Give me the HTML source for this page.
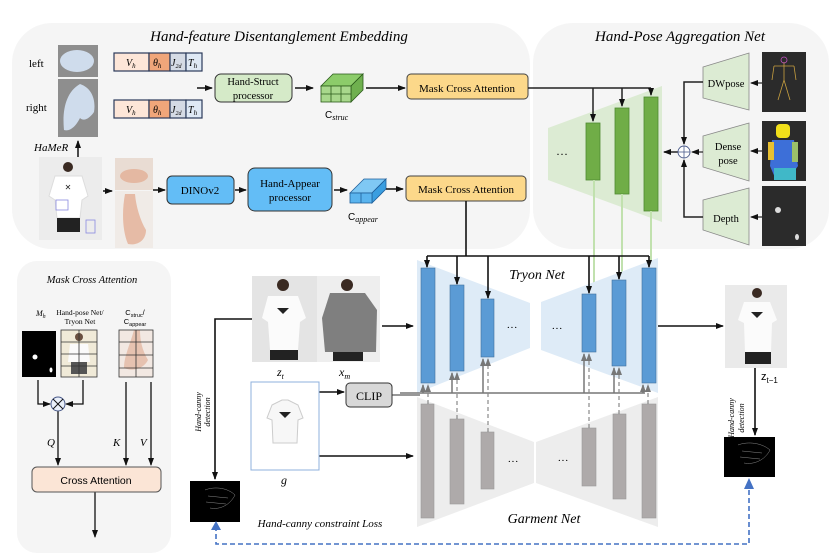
<!DOCTYPE html>
<html><head><meta charset="utf-8"><style>
html,body{margin:0;padding:0;background:#fff;width:832px;height:558px;overflow:hidden}
svg{display:block}
.s{font-family:"Liberation Serif",serif}
.i{font-family:"Liberation Serif",serif;font-style:italic}
.a{font-family:"Liberation Sans",sans-serif}
</style></head><body>
<svg width="832" height="558" viewBox="0 0 832 558" xmlns="http://www.w3.org/2000/svg">
<defs>
<marker id="ar" markerWidth="8" markerHeight="8" refX="7" refY="4" orient="auto" markerUnits="userSpaceOnUse"><path d="M0,1 L8,4 L0,7 Z" fill="#111"/></marker>
<marker id="ag" markerWidth="8" markerHeight="8" refX="7" refY="4" orient="auto" markerUnits="userSpaceOnUse"><path d="M0,1 L8,4 L0,7 Z" fill="#777"/></marker>
<marker id="ab" markerWidth="12" markerHeight="12" refX="10" refY="6" orient="auto" markerUnits="userSpaceOnUse"><path d="M0,0 L12,6 L0,12 Z" fill="#4472c4"/></marker>
<marker id="al" markerWidth="8" markerHeight="8" refX="7" refY="4" orient="auto" markerUnits="userSpaceOnUse"><path d="M0,1 L8,4 L0,7 Z" fill="#b5d9a4"/></marker>
</defs>
<!-- panels -->
<rect x="12" y="23" width="518" height="226" rx="40" fill="#f5f5f5"/>
<rect x="533" y="23" width="296" height="226" rx="40" fill="#f5f5f5"/>
<rect x="17" y="261" width="154" height="292" rx="20" fill="#f5f5f5"/>

<text x="279" y="41" class="i" font-size="15" text-anchor="middle">Hand-feature Disentanglement Embedding</text>
<text x="680" y="41" class="i" font-size="15" text-anchor="middle">Hand-Pose Aggregation Net</text>

<!-- left/right hands -->
<text x="29" y="67" class="s" font-size="11">left</text>
<text x="26" y="111" class="s" font-size="11">right</text>
<rect x="58" y="45" width="40" height="32" fill="#8e8e8e"/>
<ellipse cx="77" cy="61" rx="17" ry="11" fill="#cfdcec"/>
<rect x="58" y="79" width="40" height="58" fill="#8e8e8e"/>
<path d="M64,130 C62,110 66,92 80,84 C92,88 96,100 94,112 C90,118 84,122 80,118 C76,126 70,132 64,130Z" fill="#cfdcec"/>
<text x="34" y="151" class="i" font-size="11">HaMeR</text>
<line x1="78" y1="157" x2="78" y2="141" stroke="#111" stroke-width="1.5" marker-end="url(#ar)"/>

<!-- token bars -->
<g stroke="#2b3a5a" stroke-width="1.2">
<rect x="114" y="53" width="35" height="18" fill="#fde6d8"/><rect x="149" y="53" width="21" height="18" fill="#f0a67a"/><rect x="170" y="53" width="16" height="18" fill="#d5dbe5"/><rect x="186" y="53" width="16" height="18" fill="#dfe9f5"/>
<rect x="114" y="100" width="35" height="18" fill="#fde6d8"/><rect x="149" y="100" width="21" height="18" fill="#f0a67a"/><rect x="170" y="100" width="16" height="18" fill="#d5dbe5"/><rect x="186" y="100" width="16" height="18" fill="#dfe9f5"/>
</g>
<g class="i" font-size="10">
<text x="126" y="66">V<tspan font-size="7" dy="2">h</tspan></text><text x="153" y="66">θ<tspan font-size="7" dy="2">h</tspan></text><text x="171" y="66">J<tspan font-size="6" dy="2">2d</tspan></text><text x="188" y="66">T<tspan font-size="7" dy="2">h</tspan></text>
<text x="126" y="113">V<tspan font-size="7" dy="2">h</tspan></text><text x="153" y="113">θ<tspan font-size="7" dy="2">h</tspan></text><text x="171" y="113">J<tspan font-size="6" dy="2">2d</tspan></text><text x="188" y="113">T<tspan font-size="7" dy="2">h</tspan></text>
</g>
<line x1="197" y1="88" x2="212" y2="88" stroke="#111" stroke-width="1.5" marker-end="url(#ar)"/>
<rect x="215" y="74" width="77" height="28" rx="6" fill="#d5eac8" stroke="#333" stroke-width="1"/>
<text x="253" y="85" class="s" font-size="10.5" text-anchor="middle">Hand-Struct</text>
<text x="253" y="99" class="s" font-size="10.5" text-anchor="middle">processor</text>
<line x1="295" y1="88" x2="313" y2="88" stroke="#111" stroke-width="1.5" marker-end="url(#ar)"/>
<!-- green cube -->
<g stroke="#2a5a1a" stroke-width="0.8" fill="#8ccc6a">
<polygon points="321,86 333,74 363,74 351,86"/>
<polygon points="351,86 363,74 363,90 351,102" fill="#6fb04f"/>
<rect x="321" y="86" width="30" height="16" fill="#a8d88c"/>
<line x1="331" y1="86" x2="331" y2="102"/><line x1="341" y1="86" x2="341" y2="102"/><line x1="321" y1="94" x2="351" y2="94"/>
</g>
<text x="325" y="118" class="a" font-size="10">C<tspan class="i" font-size="8" dy="2">struc</tspan></text>
<line x1="366" y1="88" x2="405" y2="88" stroke="#111" stroke-width="1.5" marker-end="url(#ar)"/>
<rect x="407" y="74" width="121" height="25" rx="4" fill="#fcd88a" stroke="#444" stroke-width="1"/>
<text x="467" y="92" class="s" font-size="11" text-anchor="middle">Mask Cross Attention</text>

<!-- person image top -->
<rect x="39" y="157" width="63" height="83" fill="#ececec"/>
<circle cx="68" cy="167" r="5" fill="#3a2a22"/>
<path d="M55,176 L82,176 L88,196 L82,200 L80,218 L57,218 L55,200 L49,196Z" fill="#fff" stroke="#ddd"/>
<path d="M57,218 L80,218 L80,232 L57,232Z" fill="#222"/>
<text x="68" y="190" font-size="8" text-anchor="middle" fill="#222">✕</text>
<rect x="56" y="200" width="12" height="10" fill="none" stroke="#8a8ae0" stroke-width="0.8"/>
<rect x="86" y="220" width="9" height="13" fill="none" stroke="#8a8ae0" stroke-width="0.8"/>
<line x1="103" y1="191" x2="112" y2="191" stroke="#111" stroke-width="1.5" marker-end="url(#ar)"/>
<rect x="115" y="158" width="38" height="32" fill="#e9dcd3"/>
<ellipse cx="134" cy="176" rx="14" ry="7" fill="#e4b8a2"/>
<rect x="115" y="191" width="38" height="57" fill="#f0ebe7"/>
<path d="M125,194 C122,210 122,230 128,244 C138,246 146,240 146,230 C140,220 136,206 135,194Z" fill="#e6bba6"/>
<line x1="153" y1="190" x2="165" y2="190" stroke="#111" stroke-width="1.5" marker-end="url(#ar)"/>
<rect x="167" y="176" width="67" height="28" rx="5" fill="#63bdf6" stroke="#333" stroke-width="1"/>
<text x="200" y="194" class="s" font-size="11" text-anchor="middle">DINOv2</text>
<line x1="235" y1="190" x2="246" y2="190" stroke="#111" stroke-width="1.5" marker-end="url(#ar)"/>
<rect x="248" y="168" width="84" height="43" rx="7" fill="#63bdf6" stroke="#333" stroke-width="1"/>
<text x="290" y="187" class="s" font-size="11" text-anchor="middle">Hand-Appear</text>
<text x="290" y="201" class="s" font-size="11" text-anchor="middle">processor</text>
<line x1="334" y1="190" x2="347" y2="190" stroke="#111" stroke-width="1.5" marker-end="url(#ar)"/>
<g stroke="#1f5f9a" stroke-width="0.8">
<polygon points="350,193 364,179 386,179 372,193" fill="#7fc8f4"/>
<polygon points="372,193 386,179 386,189 372,203" fill="#3a9ee0"/>
<rect x="350" y="193" width="22" height="10" fill="#5ab4ee"/>
<line x1="361" y1="193" x2="361" y2="203"/>
</g>
<text x="348" y="220" class="a" font-size="10">C<tspan class="i" font-size="8" dy="2">appear</tspan></text>
<line x1="386" y1="189" x2="403" y2="189" stroke="#111" stroke-width="1.5" marker-end="url(#ar)"/>
<rect x="406" y="176" width="120" height="25" rx="4" fill="#fcd88a" stroke="#444" stroke-width="1"/>
<text x="466" y="193" class="s" font-size="11" text-anchor="middle">Mask Cross Attention</text>

<!-- hand-pose aggregation -->
<polygon points="548,128 662,86 662,222 548,180" fill="#dcebd3"/>
<g fill="#70ad47" stroke="#4f8a30" stroke-width="0.8">
<rect x="586" y="123" width="14" height="57"/><rect x="615" y="108" width="14" height="86"/><rect x="644" y="97" width="14" height="114"/>
</g>
<text x="562" y="158" class="s" font-size="12" text-anchor="middle">···</text>
<line x1="528" y1="88" x2="651" y2="88" stroke="#222" stroke-width="1.6"/>
<line x1="593" y1="88" x2="593" y2="121" stroke="#222" stroke-width="1.5" marker-end="url(#ar)"/>
<line x1="622" y1="88" x2="622" y2="106" stroke="#222" stroke-width="1.5" marker-end="url(#ar)"/>
<line x1="651" y1="88" x2="651" y2="95" stroke="#222" stroke-width="1.5" marker-end="url(#ar)"/>
<g stroke="#c1e1ae" stroke-width="2">
<line x1="594" y1="180" x2="594" y2="290"/><line x1="622" y1="194" x2="622" y2="276"/><line x1="651" y1="211" x2="651" y2="265"/>
</g>
<g fill="#dcebd3" stroke="#888" stroke-width="0.8">
<polygon points="703,67 749,53 749,110 703,98"/>
<polygon points="703,136 749,123 749,181 703,167"/>
<polygon points="703,200 749,188 749,245 703,230"/>
</g>
<text x="726" y="87" class="s" font-size="10.5" text-anchor="middle">DWpose</text>
<text x="728" y="150" class="s" font-size="10.5" text-anchor="middle">Dense</text>
<text x="728" y="164" class="s" font-size="10.5" text-anchor="middle">pose</text>
<text x="726" y="222" class="s" font-size="10.5" text-anchor="middle">Depth</text>
<rect x="762" y="52" width="44" height="60" fill="#2b2b2b"/>
<g stroke-width="0.8" fill="none"><path d="M784,62 L784,80 L778,100 M784,80 L790,100 M774,66 L794,66 M774,66 L772,80 M794,66 L796,80" stroke="#c8a040"/><circle cx="784" cy="60" r="3" stroke="#c050c0"/></g>
<rect x="762" y="121" width="44" height="60" fill="#2b2b2b"/>
<rect x="776" y="124" width="14" height="14" rx="4" fill="#f2e01a"/>
<path d="M772,140 L794,140 L798,166 L788,180 L776,180 L770,166Z" fill="#3d6fd8"/>
<rect x="768" y="142" width="6" height="18" fill="#e8c030"/><rect x="792" y="142" width="6" height="20" fill="#9bc06a"/>
<rect x="774" y="168" width="22" height="12" fill="#40b8c8"/>
<rect x="762" y="186" width="44" height="60" fill="#2b2b2b"/>
<circle cx="778" cy="210" r="3" fill="#ddd"/><ellipse cx="797" cy="237" rx="2" ry="3" fill="#ddd"/>
<g stroke="#222" stroke-width="1.2">
<line x1="762" y1="83" x2="751" y2="83" marker-end="url(#ar)"/>
<line x1="762" y1="151" x2="751" y2="151" marker-end="url(#ar)"/>
<line x1="762" y1="217" x2="751" y2="217" marker-end="url(#ar)"/>
<line x1="703" y1="152" x2="692" y2="152" marker-end="url(#ar)"/>
<polyline points="703,82 684,82 684,144" fill="none" stroke-width="1.5" marker-end="url(#ar)"/>
<polyline points="703,217 684,217 684,160" fill="none" stroke-width="1.5" marker-end="url(#ar)"/>
<line x1="678" y1="152" x2="664" y2="152" stroke-width="1.5" marker-end="url(#ar)"/>
</g>
<circle cx="684" cy="152" r="6" fill="#fff" stroke="#4a5a8a" stroke-width="0.9"/>
<line x1="684" y1="146" x2="684" y2="158" stroke="#4a5a8a" stroke-width="0.8"/><line x1="678" y1="152" x2="690" y2="152" stroke="#4a5a8a" stroke-width="0.8"/>

<!-- mask cross attention panel -->
<text x="92" y="283" class="i" font-size="10.5" text-anchor="middle">Mask Cross Attention</text>
<text x="36" y="316" class="i" font-size="8">M<tspan font-size="6" dy="2">h</tspan></text>
<text x="80" y="315" class="s" font-size="7.5" text-anchor="middle">Hand-pose Net/</text>
<text x="80" y="324" class="s" font-size="7.5" text-anchor="middle">Tryon Net</text>
<text x="135" y="315" class="a" font-size="7.5" text-anchor="middle">C<tspan font-size="5.5" dy="2">struc</tspan><tspan dy="-2">/</tspan></text>
<text x="135" y="324" class="a" font-size="7.5" text-anchor="middle">C<tspan font-size="5.5" dy="2">appear</tspan></text>
<rect x="22" y="331" width="34" height="46" fill="#000"/>
<circle cx="35" cy="357" r="2.5" fill="#fff"/><ellipse cx="51" cy="370" rx="1.5" ry="2.5" fill="#fff"/>
<rect x="61" y="330" width="36" height="47" fill="#f0ead8"/>
<circle cx="79" cy="337" r="4" fill="#6a5040"/><path d="M70,344 L88,344 L90,362 L68,362Z" fill="#fafafa"/><rect x="71" y="362" width="16" height="12" fill="#555"/>
<g stroke="#333" stroke-width="0.8" fill="none"><rect x="61" y="330" width="36" height="47"/><line x1="61" y1="342" x2="97" y2="342"/><line x1="61" y1="354" x2="97" y2="354"/><line x1="61" y1="366" x2="97" y2="366"/><line x1="79" y1="330" x2="79" y2="377"/></g>
<rect x="119" y="330" width="34" height="47" fill="#f2e8e2"/>
<path d="M134,330 C130,345 124,356 124,368 C134,372 144,368 148,360 C142,350 140,340 140,330Z" fill="#e6c2b0"/>
<g stroke="#333" stroke-width="0.8" fill="none"><rect x="119" y="330" width="34" height="47"/><line x1="119" y1="342" x2="153" y2="342"/><line x1="119" y1="355" x2="153" y2="355"/><line x1="119" y1="368" x2="153" y2="368"/><line x1="136" y1="330" x2="136" y2="377"/></g>
<g stroke="#111" stroke-width="1.3" fill="none">
<polyline points="38,380 38,404 50,404" marker-end="url(#ar)"/>
<polyline points="83,380 83,404 66,404" marker-end="url(#ar)"/>
<line x1="58" y1="411" x2="58" y2="465" marker-end="url(#ar)"/>
<line x1="126" y1="382" x2="126" y2="465" marker-end="url(#ar)"/>
<line x1="151" y1="382" x2="151" y2="465" marker-end="url(#ar)"/>
<line x1="95" y1="492" x2="95" y2="537" marker-end="url(#ar)"/>
</g>
<circle cx="58" cy="404" r="7" fill="#eaf0fa" stroke="#4a5a8a" stroke-width="1"/>
<line x1="53" y1="399" x2="63" y2="409" stroke="#111"/><line x1="63" y1="399" x2="53" y2="409" stroke="#111"/>
<text x="47" y="446" class="i" font-size="11">Q</text>
<text x="113" y="446" class="i" font-size="11">K</text>
<text x="140" y="446" class="i" font-size="11">V</text>
<rect x="32" y="467" width="129" height="25" rx="5" fill="#fbe5d6" stroke="#555" stroke-width="1"/>
<text x="96" y="484" class="a" font-size="10.5" text-anchor="middle">Cross Attention</text>

<!-- tryon net -->
<polygon points="417,260 530,303 530,348 417,393" fill="#deebf7"/>
<polygon points="541,302 658,258 658,393 541,350" fill="#deebf7"/>
<polygon points="417,397 534,442 534,483 417,527" fill="#ededed"/>
<polygon points="536,442 658,397 658,527 536,483" fill="#ededed"/>
<g fill="#aeaaaa" stroke="#999" stroke-width="0.6">
<rect x="421" y="404" width="13" height="114"/><rect x="450" y="419" width="14" height="85"/><rect x="481" y="432" width="13" height="57"/>
<rect x="582" y="428" width="14" height="58"/><rect x="613" y="414" width="13" height="85"/><rect x="642" y="404" width="14" height="114"/>
</g>
<g fill="#5b9bd5" stroke="#41719c" stroke-width="0.6">
<rect x="421" y="268" width="14" height="115"/><rect x="450" y="285" width="14" height="86"/><rect x="481" y="299" width="13" height="58"/>
<rect x="582" y="294" width="14" height="58"/><rect x="612" y="280" width="14" height="86"/><rect x="642" y="268" width="14" height="115"/>
</g>
<text x="512" y="331" class="s" font-size="11" text-anchor="middle">···</text>
<text x="557" y="332" class="s" font-size="11" text-anchor="middle">···</text>
<text x="513" y="465" class="s" font-size="11" text-anchor="middle">···</text>
<text x="563" y="464" class="s" font-size="11" text-anchor="middle">···</text>
<text x="537" y="279" class="i" font-size="14" text-anchor="middle">Tryon Net</text>
<text x="544" y="523" class="i" font-size="14" text-anchor="middle">Garment Net</text>
<g stroke="#111" stroke-width="1.6" fill="none">
<line x1="466" y1="201" x2="466" y2="256"/>
<line x1="427" y1="256" x2="649" y2="256"/>
<line x1="427" y1="256" x2="427" y2="267" marker-end="url(#ar)"/>
<line x1="457" y1="256" x2="457" y2="284" marker-end="url(#ar)"/>
<line x1="488" y1="256" x2="488" y2="298" marker-end="url(#ar)"/>
<line x1="589" y1="256" x2="589" y2="293" marker-end="url(#ar)"/>
<line x1="619" y1="256" x2="619" y2="279" marker-end="url(#ar)"/>
<line x1="649" y1="256" x2="649" y2="267" marker-end="url(#ar)"/>
</g>
<g stroke="#777" stroke-width="1.5" fill="none">
<line x1="392" y1="395" x2="420" y2="395"/>
<line x1="400" y1="393" x2="645" y2="393"/>
<line x1="423" y1="393" x2="423" y2="385" marker-end="url(#ag)"/>
<line x1="452" y1="393" x2="452" y2="373" marker-end="url(#ag)"/>
<line x1="483" y1="393" x2="483" y2="359" marker-end="url(#ag)"/>
<line x1="584" y1="393" x2="584" y2="354" marker-end="url(#ag)"/>
<line x1="614" y1="393" x2="614" y2="368" marker-end="url(#ag)"/>
<line x1="643" y1="393" x2="643" y2="385" marker-end="url(#ag)"/>
</g>
<g stroke="#888" stroke-width="1.2" stroke-dasharray="4,3" fill="none">
<line x1="428" y1="404" x2="428" y2="385" marker-end="url(#ag)"/>
<line x1="457" y1="419" x2="457" y2="373" marker-end="url(#ag)"/>
<line x1="488" y1="432" x2="488" y2="359" marker-end="url(#ag)"/>
<line x1="589" y1="428" x2="589" y2="354" marker-end="url(#ag)"/>
<line x1="619" y1="414" x2="619" y2="368" marker-end="url(#ag)"/>
<line x1="648" y1="404" x2="648" y2="385" marker-end="url(#ag)"/>
</g>

<!-- z_t, x_m -->
<rect x="252" y="276" width="65" height="86" fill="#e4e4e4"/>
<circle cx="283" cy="285" r="6" fill="#3a2a22"/>
<path d="M268,296 L298,296 L306,318 L300,322 L298,350 L270,350 L268,322 L262,318Z" fill="#fbfbfb"/>
<path d="M277,308 L289,308 L283,314Z" fill="#222"/>
<rect x="270" y="350" width="28" height="10" fill="#222"/>
<rect x="317" y="276" width="63" height="86" fill="#eeeeee"/>
<circle cx="347" cy="285" r="6" fill="#3a2a22"/>
<path d="M330,293 L365,293 L377,310 L376,352 L325,352 L322,318Z" fill="#7f7f7f"/>
<rect x="333" y="352" width="30" height="9" fill="#222"/>
<text x="277" y="376" class="i" font-size="12">z<tspan font-size="8" dy="3">t</tspan></text>
<text x="339" y="376" class="i" font-size="12">x<tspan font-size="8" dy="3">m</tspan></text>
<g stroke="#111" stroke-width="1.6" fill="none">
<line x1="382" y1="326" x2="413" y2="326" marker-end="url(#ar)"/>
<polyline points="252,319 215,319 215,479" marker-end="url(#ar)"/>
<line x1="319" y1="392" x2="344" y2="392" marker-end="url(#ar)"/>
<line x1="319" y1="456" x2="413" y2="456" marker-end="url(#ar)"/>
<line x1="658" y1="326" x2="723" y2="326" marker-end="url(#ar)"/>
<line x1="755" y1="368" x2="755" y2="435" marker-end="url(#ar)"/>
</g>
<rect x="251" y="382" width="68" height="88" fill="#fff" stroke="#8fb0dc" stroke-width="1"/>
<path d="M272,405 L282,400 L288,400 L298,405 L303,418 L298,420 L297,443 L273,443 L272,420 L267,418Z" fill="#f7f7f7" stroke="#ccc"/>
<path d="M279,412 L291,412 L285,418Z" fill="#222"/>
<text x="281" y="484" class="i" font-size="12">g</text>
<rect x="346" y="383" width="46" height="24" rx="4" fill="#d8d8d8" stroke="#333" stroke-width="1"/>
<text x="369" y="400" class="s" font-size="12" text-anchor="middle">CLIP</text>
<text transform="translate(201,412) rotate(-90)" class="i" font-size="8" text-anchor="middle">Hand-canny</text>
<text transform="translate(210,412) rotate(-90)" class="i" font-size="8" text-anchor="middle">detection</text>
<rect x="190" y="481" width="50" height="41" fill="#000"/>
<g stroke="#888" stroke-width="0.5" fill="none"><path d="M205,490 C215,486 228,488 235,495 C230,505 220,510 210,508 M208,496 L228,498 M206,502 L226,504"/></g>
<text x="320" y="527" class="i" font-size="11" text-anchor="middle">Hand-canny constraint Loss</text>
<polyline points="749,482 749,544 216,544 216,524" fill="none" stroke="#4472c4" stroke-width="1.6" stroke-dasharray="5,3"/>
<path d="M211,530 L216,521 L221,530Z" fill="#4472c4"/>
<path d="M744,489 L749,478 L754,489Z" fill="#4472c4"/>

<!-- z_{t-1} -->
<rect x="725" y="285" width="62" height="83" fill="#eaeaea"/>
<circle cx="757" cy="293" r="5" fill="#3a2a22"/>
<path d="M744,302 L770,302 L777,320 L772,323 L771,352 L745,352 L744,323 L738,320Z" fill="#fbfbfb"/>
<path d="M751,312 L763,312 L757,318Z" fill="#222"/>
<rect x="745" y="352" width="26" height="12" fill="#222"/>
<text x="761" y="380" class="a" font-size="11">z<tspan font-size="8" dy="3">t−1</tspan></text>
<text transform="translate(734,418) rotate(-90)" class="i" font-size="8" text-anchor="middle">Hand-canny</text>
<text transform="translate(744,418) rotate(-90)" class="i" font-size="8" text-anchor="middle">detection</text>
<rect x="724" y="437" width="51" height="40" fill="#000"/>
<g stroke="#888" stroke-width="0.5" fill="none"><path d="M738,445 C748,441 762,443 770,450 C765,460 754,465 744,463 M742,451 L762,453 M740,457 L760,459"/></g>
</svg>
</body></html>
